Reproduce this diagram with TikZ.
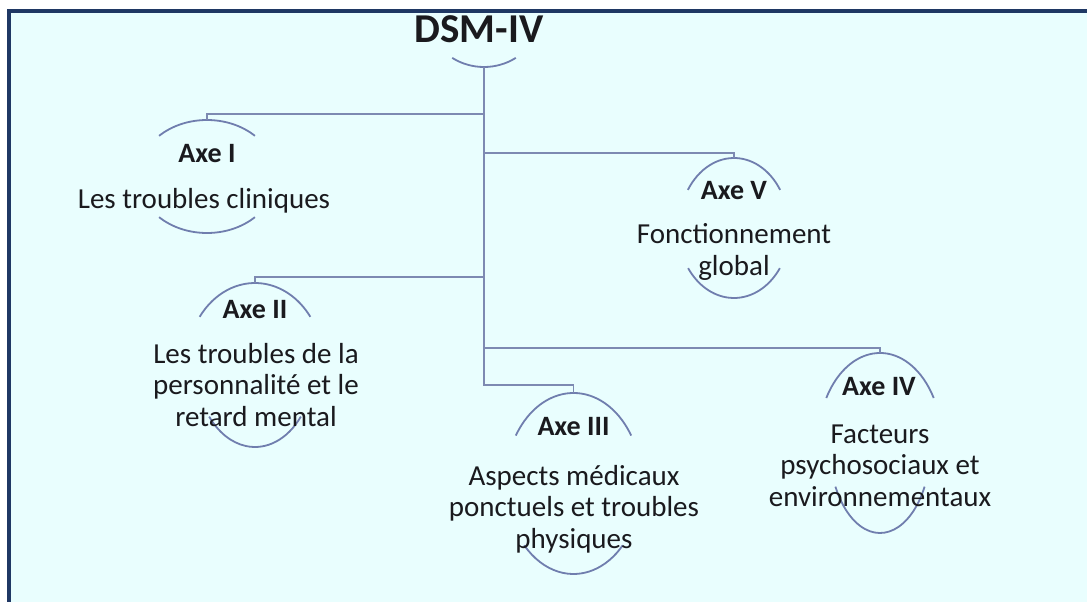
\documentclass[tikz,border=0pt]{standalone}
\usepackage{fontspec}
\setmainfont{Carlito}
\definecolor{bgc}{RGB}{233,254,254}
\definecolor{framec}{RGB}{31,56,100}
\definecolor{lineclr}{RGB}{125,138,178}
\definecolor{arcclr}{RGB}{112,126,174}
\definecolor{txt}{RGB}{26,26,30}
\begin{document}
\begin{tikzpicture}[x=1pt,y=-1pt,
  conn/.style={draw=lineclr, line width=1.8pt},
  arcline/.style={draw=arcclr, line width=1.8pt},
  framel/.style={draw=framec, line width=4pt, line join=miter},
  lbl/.style={font=\bfseries\fontsize{28}{31.5}\selectfont, text=txt, inner sep=0pt, anchor=base},
  body/.style={font=\fontsize{29}{31.5}\selectfont, text=txt, inner sep=0pt, anchor=base, align=center},
  ttl/.style={font=\bfseries\fontsize{41}{45}\selectfont, text=txt, inner sep=0pt, anchor=base}]
\useasboundingbox (0,0) rectangle (1087,602);
\fill[white] (0,0) rectangle (1087,602);
\fill[bgc] (9,11.3) rectangle (1087,602);
\draw[framel] (9,604) -- (9,11.3) -- (1089,11.3);

% title
\node[ttl] (dsm) at (479,43) {DSM-IV};
\draw[arcline] ([shift={(58:60)}]484,7) arc[start angle=58,end angle=122,radius=60];
\coordinate (root) at (484,67);

% ellipse centres
\coordinate (c1) at (207,176.5);
\coordinate (c5) at (734,228);
\coordinate (c2) at (255,365);
\coordinate (c4) at (880,443);
\coordinate (c3) at (573.5,483.5);

% arcs
\draw[arcline] ([shift={(226:69 and 56.5)}]c1) arc[start angle=226,end angle=314,x radius=69,y radius=56.5];
\draw[arcline] ([shift={(46:69 and 56.5)}]c1) arc[start angle=46,end angle=134,x radius=69,y radius=56.5];

\draw[arcline] ([shift={(213:55 and 70)}]c5) arc[start angle=213,end angle=327,x radius=55,y radius=70];
\draw[arcline] ([shift={(35:56 and 70)}]c5) arc[start angle=35,end angle=145,x radius=56,y radius=70];

\draw[arcline] ([shift={(216:68.4 and 82)}]c2) arc[start angle=216,end angle=324,x radius=68.4,y radius=82];
\draw[arcline] ([shift={(39:59 and 82)}]c2) arc[start angle=39,end angle=141,x radius=59,y radius=82];

\draw[arcline] ([shift={(210:62 and 90)}]c4) arc[start angle=210,end angle=330,x radius=62,y radius=90];
\draw[arcline] ([shift={(29:51 and 90)}]c4) arc[start angle=29,end angle=151,x radius=51,y radius=90];

\draw[arcline] ([shift={(212:68 and 90.5)}]c3) arc[start angle=212,end angle=328,x radius=68,y radius=90.5];
\draw[arcline] ([shift={(43:67.4 and 90.5)}]c3) arc[start angle=43,end angle=137,x radius=67.4,y radius=90.5];

% arc tops (connector ends)
\coordinate (t1) at (207,120);
\coordinate (t5) at (734,158);
\coordinate (t2) at (255,283);
\coordinate (t4) at (880,353);
\coordinate (t3) at (573.5,393);
% elbows
\coordinate (e1) at (207,114);
\coordinate (e5) at (734,153);
\coordinate (e2) at (255,277);
\coordinate (e4) at (880,348);
\coordinate (e3) at (573.5,385);

% connectors
\draw[conn] (root) |- (e3) -- (t3);
\draw[conn] (root |- e1) -- (e1) -- (t1);
\draw[conn] (root |- e5) -- (e5) -- (t5);
\draw[conn] (root |- e2) -- (e2) -- (t2);
\draw[conn] (root |- e4) -- (e4) -- (t4);

% labels (multi-line nodes: base = last line's baseline)
\node[lbl] (l1) at (207,162) {Axe I};
\node[body] (b1) at (204,208) {Les troubles cliniques};
\node[lbl] (l5) at (734,199) {Axe V};
\node[body] (b5) at (734,275) {Fonctionnement\\global};
\node[lbl] (l2) at (255,318) {Axe II};
\node[body] (b2) at (256,426) {Les troubles de la\\personnalité et le\\retard mental};
\node[lbl] (l4) at (879,395) {Axe IV};
\node[body] (b4) at (880,506) {Facteurs\\psychosociaux et\\environnementaux};
\node[lbl] (l3) at (573.5,435) {Axe III};
\node[body] (b3) at (574,548) {Aspects médicaux\\ponctuels et troubles\\physiques};
\end{tikzpicture}
\end{document}
